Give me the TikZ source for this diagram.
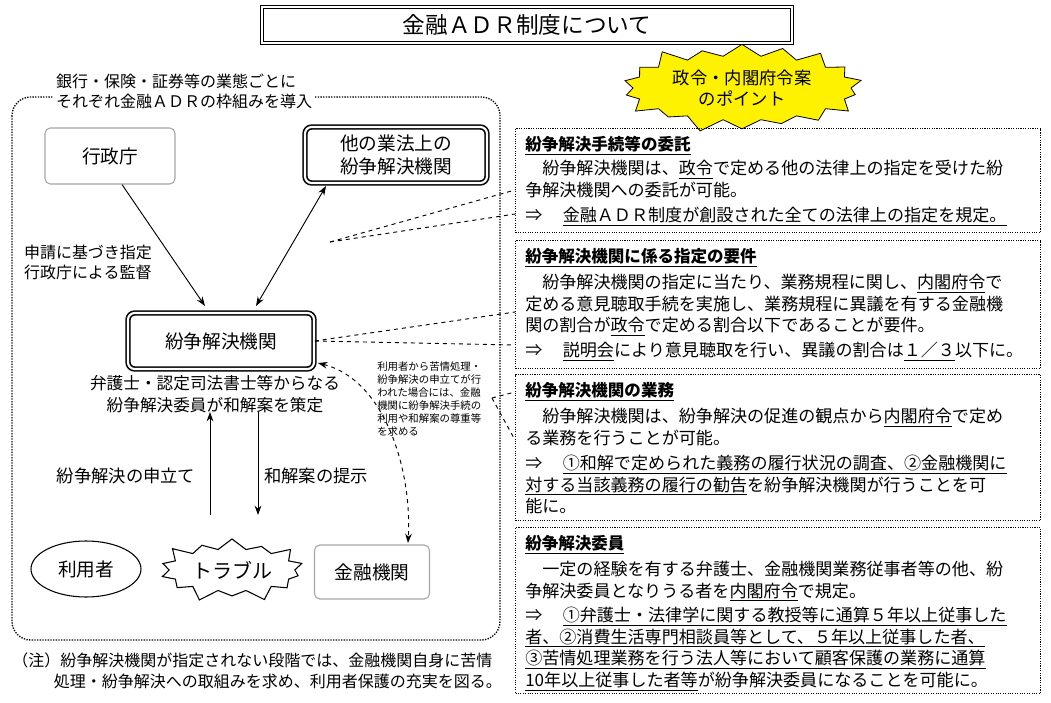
\documentclass[tikz,border=0pt]{standalone}
\usepackage{fontspec}
\setmainfont{Noto Sans CJK JP}
\usetikzlibrary{positioning,arrows.meta,shapes.symbols,shapes.geometric}
\tikzset{
  plainBox/.style={draw=gray!70,rounded corners=4pt,line width=0.8pt,minimum width=130\pxu,minimum height=56\pxu,font=\fontsize{14}{16}\selectfont},
  doubleBox/.style={draw,double,double distance=1.6pt,line width=1.2pt,rounded corners=5pt,font=\fontsize{14}{17}\selectfont,align=center},
  pointBox/.style={draw,densely dotted,line width=0.8pt,anchor=north west,minimum width=525\pxu,inner sep=0pt},
  arrowStyle/.style={-{Stealth[length=7pt,width=5pt]},line width=0.7pt},
  callout/.style={dashed,line width=0.7pt},
  bodyText/.style={font=\fontsize{12.8}{16.2}\selectfont,align=left,anchor=north west,inner sep=0pt},
  headText/.style={font=\bfseries\fontsize{12.4}{15}\selectfont,anchor=north west,inner sep=0pt}
}
\newlength{\pxu}\setlength{\pxu}{0.75pt}
\begin{document}
\begin{tikzpicture}[x=0.75pt,y=-0.75pt]
  \useasboundingbox (0,0) rectangle (1051,703);
  % title
  \node[draw,line width=1pt,double,double distance=1pt,minimum width=530\pxu,minimum height=36\pxu,font=\fontsize{17}{19}\selectfont]
    (title) at (527,25) {金融ＡＤＲ制度について};
  % left frame
  \draw[densely dotted,line width=1pt,rounded corners=14pt] (12,97) rectangle (500,640);
  \node[fill=white,font=\fontsize{12}{15}\selectfont,align=left,inner sep=2pt] (frameLbl) at (184,91)
    {銀行・保険・証券等の業態ごとに\\それぞれ金融ＡＤＲの枠組みを導入};
  % nodes
  \node[plainBox] (gyosei) at (110,156) {行政庁};
  \node[doubleBox,minimum width=182\pxu,minimum height=56\pxu] (tagyo) at (396,155) {他の業法上の\\紛争解決機関};
  \node[doubleBox,minimum width=186\pxu,minimum height=56\pxu] (funso) at (221,341) {紛争解決機関};
  \node[font=\fontsize{12}{15}\selectfont,align=left] (kanshi) at (88,262) {申請に基づき指定\\行政庁による監督};
  \node[font=\fontsize{12.5}{16}\selectfont,align=center] (iin) at (215,394) {弁護士・認定司法書士等からなる\\紛争解決委員が和解案を策定};
  \node[draw,ellipse,line width=0.8pt,minimum width=110\pxu,minimum height=56\pxu,font=\fontsize{14}{16}\selectfont] (riyo) at (86,569) {利用者};
  \node[draw,starburst,starburst points=14,starburst point height=14\pxu,line width=0.8pt,minimum width=130\pxu,minimum height=70\pxu,font=\fontsize{15}{17}\selectfont] (trouble) at (232,570) {トラブル};
  \node[plainBox,minimum width=115\pxu,minimum height=54\pxu] (kinyu) at (372,572) {金融機関};
  \coordinate (upBot) at (210,515);
  \coordinate (upTop) at (210,412);
  \coordinate (dnTop) at (258,412);
  \coordinate (dnBot) at (258,515);
  \coordinate (kinyuTop) at (408,543);
  \node[font=\fontsize{13}{15}\selectfont] (moshi) at (126,476) {紛争解決の申立て};
  \node[font=\fontsize{13}{15}\selectfont] (teiji) at (316,476) {和解案の提示};
  % arrows
  \draw[arrowStyle] (gyosei.south) ++(12,0) -- (205,306);
  \draw[arrowStyle,{Stealth[length=7pt,width=5pt]}-{Stealth[length=7pt,width=5pt]}] (256,306) -- (326,186);
  \draw[arrowStyle] (upBot) -- (upTop);
  \draw[arrowStyle] (dnTop) -- (dnBot);
  \draw[callout,{Stealth[length=7pt,width=5pt]}-{Stealth[length=7pt,width=5pt]}] (318,363) .. controls (385,380) and (412,470) .. (kinyuTop);
  \node[font=\fontsize{7.8}{9.8}\selectfont,align=left,anchor=north west,inner sep=0pt] (smallNote) at (377,361)
    {利用者から苦情処理・\\紛争解決の申立てが行\\われた場合には、金融\\機関に紛争解決手続の\\利用や和解案の尊重等\\を求める};
  % starburst
  \node[starburst,starburst points=18,starburst point height=16\pxu,fill=yellow,draw,line width=0.6pt,minimum width=250\pxu,minimum height=62\pxu,font=\fontsize{13}{16}\selectfont,align=center]
    (point) at (742,88) {政令・内閣府令案\\のポイント};
  % right boxes
  \node[pointBox,minimum height=104\pxu] (box1) at (515,128) {};
  \node[pointBox,minimum height=128\pxu] (box2) at (515,240) {};
  \node[pointBox,minimum height=146\pxu] (box3) at (515,374) {};
  \node[pointBox,minimum height=166\pxu] (box4) at (515,527) {};
  % box1
  \node[headText] (h1) at (525,136) {\underline{紛争解決手続等の委託}};
  \node[bodyText] (t1) at (525,160) {\hspace*{1em}紛争解決機関は、\underline{政令}で定める他の法律上の指定を受けた紛\\争解決機関への委託が可能。};
  \node[bodyText] (p1) at (525,207) {⇒\hspace{1.2em}\underline{金融ＡＤＲ制度が創設された全ての法律上の指定を規定。}};
  % box2
  \node[headText] (h2) at (525,248) {\underline{紛争解決機関に係る指定の要件}};
  \node[bodyText] (t2) at (525,274) {\hspace*{1em}紛争解決機関の指定に当たり、業務規程に関し、\underline{内閣府令}で\\定める意見聴取手続を実施し、業務規程に異議を有する金融機\\関の割合が\underline{政令}で定める割合以下であることが要件。};
  \node[bodyText] (p2) at (525,342) {⇒\hspace{1.2em}\underline{説明会}により意見聴取を行い、異議の割合は\underline{１／３}以下に。};
  % box3
  \node[headText] (h3) at (525,382) {\underline{紛争解決機関の業務}};
  \node[bodyText] (t3) at (525,408) {\hspace*{1em}紛争解決機関は、紛争解決の促進の観点から\underline{内閣府令}で定め\\る業務を行うことが可能。};
  \node[bodyText] (p3) at (525,455) {⇒\hspace{1.2em}\underline{①和解で定められた義務の履行状況の調査、②金融機関に}\\\underline{対する当該義務の履行の勧告}を紛争解決機関が行うことを可\\能に。};
  % box4
  \node[headText] (h4) at (525,535) {\underline{紛争解決委員}};
  \node[bodyText] (t4) at (525,561) {\hspace*{1em}一定の経験を有する弁護士、金融機関業務従事者等の他、紛\\争解決委員となりうる者を\underline{内閣府令}で規定。};
  \node[bodyText] (p4) at (525,607) {⇒\hspace{1.2em}\underline{①弁護士・法律学に関する教授等に通算５年以上従事した}\\\underline{者、②消費生活専門相談員等として、５年以上従事した者、}\\\underline{③苦情処理業務を行う法人等において顧客保護の業務に通算}\\\underline{10年以上従事した者等}が紛争解決委員になることを可能に。};
  % callouts
  \coordinate (c1) at (330,242);
  \draw[callout] (c1) -- (515,190);
  \draw[callout] (c1) -- (515,214);
  \draw[callout] (funso.east) -- (515,312);
  \draw[callout] (funso.east) -- (515,345);
  \coordinate (c3) at (492,398);
  \draw[callout] (c3) -- (515,392);
  \draw[callout] (c3) -- (515,440);
  % footnote
  \node[font=\fontsize{12}{15.5}\selectfont,align=left,anchor=north west,inner sep=0pt] (chu) at (12,653)
    {（注）紛争解決機関が指定されない段階では、金融機関自身に苦情\\\hspace*{2.6em}処理・紛争解決への取組みを求め、利用者保護の充実を図る。};
\end{tikzpicture}
\end{document}
